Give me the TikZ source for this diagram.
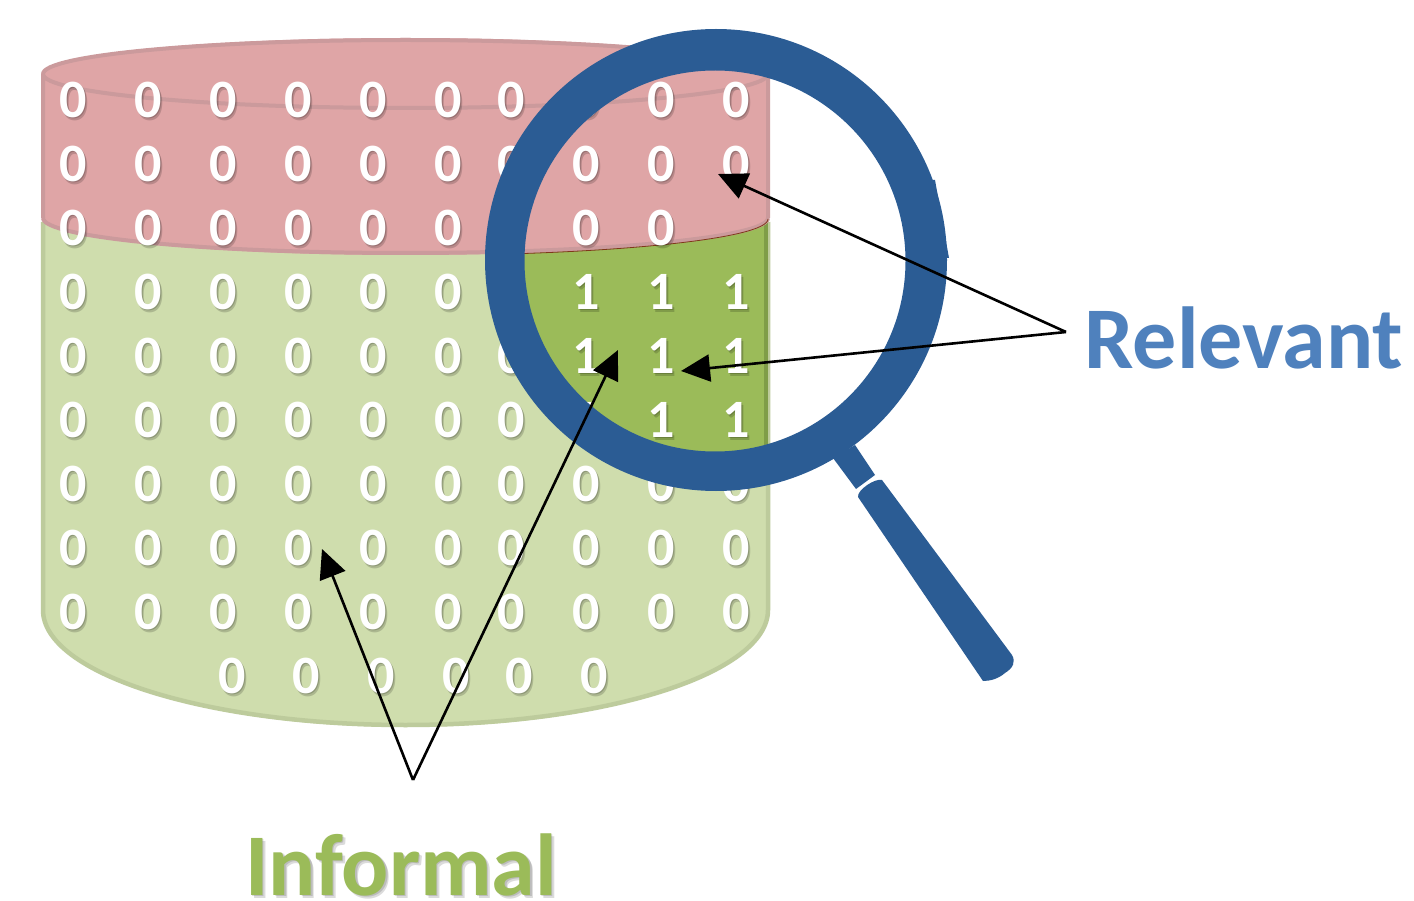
\documentclass[tikz,border=0pt]{standalone}
\usepackage{fontspec}
\setmainfont{Carlito}
\usetikzlibrary{arrows.meta}
\definecolor{redfill}{HTML}{DFA5A6}
\definecolor{rededge}{HTML}{CB9A9C}
\definecolor{greenfill}{HTML}{CFDDAD}
\definecolor{greenedge}{HTML}{BDCB9C}
\definecolor{lensgreen}{HTML}{9BBB59}
\definecolor{lensedge}{HTML}{7F9D48}
\definecolor{ringblue}{HTML}{2B5C94}
\definecolor{labelblue}{HTML}{4F81BD}
\tikzset{
  digit/.style={font=\fontsize{54}{54}\selectfont\bfseries,text=white,inner sep=0pt},
  digitshadow/.style={font=\fontsize{54}{54}\selectfont\bfseries,text=black,text opacity=.17,inner sep=0pt},
  callout/.style={draw=black,line width=2.6pt,-{Triangle[length=29pt,width=27pt]}},
  biglabel/.style={font=\fontsize{88}{88}\selectfont\bfseries,inner sep=0pt},
  bigshadow/.style={biglabel,text=black,text opacity=.14}
}
\newcommand{\dig}[4]{%
  \node[digitshadow] (s#4) at (#1+1.2,#2+1.2) {#3};
  \node[digitshadow] (t#4) at (#1+2.6,#2+2.6) {#3};
  \node[digit] (d#4) at (#1,#2) {#3};}
\begin{document}
\begin{tikzpicture}[x=1pt,y=1pt,yscale=-1,line join=round]
\useasboundingbox (0,0) rectangle (1414,901);
\fill[white] (0,0) rectangle (1414,901);
% green lower body
\fill[greenfill] (43,218) -- (43,610) arc[start angle=180,end angle=0,x radius=362.5pt,y radius=117pt] -- (768,218) -- cycle;
\draw[greenedge,line width=4.5pt] (43,222) -- (43,610) arc[start angle=180,end angle=0,x radius=362.5pt,y radius=115pt] -- (768,222);
% lens part of green
\begin{scope}
  \clip (715,261) circle[radius=192pt];
  \fill[lensgreen] (500,218) rectangle (768,480);
  \fill[lensedge] (763.5,218) rectangle (768,480);
\end{scope}
% red upper body
\fill[redfill] (43,74) arc[start angle=180,end angle=360,x radius=362.5pt,y radius=36pt] -- (768,218)
  arc[start angle=0,end angle=180,x radius=362.5pt,y radius=37pt] -- cycle;
\fill[redfill] (43,74) arc[start angle=180,end angle=0,x radius=362.5pt,y radius=36pt] -- cycle;
\draw[rededge,line width=4pt] (43,218) -- (43,74) arc[start angle=180,end angle=0,x radius=362.5pt,y radius=34pt] -- (768,218);
\draw[rededge,line width=4pt] (43,74) arc[start angle=180,end angle=0,x radius=362.5pt,y radius=-34pt];
\draw[rededge,line width=4pt] (43,218) arc[start angle=180,end angle=0,x radius=362.5pt,y radius=35pt];
\begin{scope}
  \clip (715,261) circle[radius=192pt];
  \draw[red!45!black!70!lensgreen,line width=.8pt] (43,219) arc[start angle=180,end angle=0,x radius=362.5pt,y radius=36.5pt];
\end{scope}
% digits
\foreach \r/\y in {1/100,2/164,3/228,4/292,5/356,6/420,7/484,8/548,9/612}{
  \foreach \c/\x in {1/73,2/148,3/223,4/298,5/373,6/448}{
    \dig{\x}{\y}{0}{-\r-\c}
  }
}
\foreach \r/\y in {1/100,2/164,5/356,6/420,7/484,8/548,9/612}{\dig{511}{\y}{0}{-\r-7}}
\foreach \r/\y in {1/100,2/164,3/228,7/484,8/548,9/612}{\dig{586}{\y}{0}{-\r-8}}
\foreach \r/\y in {1/100,2/164,3/228,7/484,8/548,9/612}{\dig{661}{\y}{0}{-\r-9}}
\foreach \r/\y in {1/100,2/164,7/484,8/548,9/612}{\dig{736}{\y}{0}{-\r-10}}
\foreach \r/\y in {4/292,5/356,6/420}{
  \dig{586}{\y}{1}{-\r-8}
  \dig{661}{\y}{1}{-\r-9}
  \dig{736}{\y}{1}{-\r-10}
}
\foreach \c/\x in {1/232,2/306,3/381,4/456,5/519,6/594}{\dig{\x}{676}{0}{-10-\c}}
% magnifier
\fill[ringblue,even odd rule] (716,260) circle[radius=231pt] (715,261) circle[radius=190.5pt];
\fill[ringblue] (930,180) -- (935,180) -- (949,258) -- (930,258) -- cycle;
\fill[ringblue] (833,458) -- (855,445) -- (875,475) -- (856,489) -- cycle;
\fill[ringblue] (858,497) .. controls (857,490) and (875,478) .. (882,480) -- (1012,655)
  .. controls (1016,662) and (1013,668) .. (1005,673) .. controls (998,679) and (990,681) .. (983,681) -- cycle;
% labels and connectors
\node[biglabel,text=labelblue] (relevant) at (1244,338) {Relevant};
\node[bigshadow] (informalshadowa) at (402.5,866) {Informal};
\node[bigshadow] (informalshadowb) at (404,867.5) {Informal};
\node[biglabel,text=lensgreen] (informal) at (401,864.5) {Informal};
\coordinate (relsrc) at (1066,332);
\coordinate (infsrc) at (413,780);
\coordinate (reltop) at (718,174);
\coordinate (relmid) at (681,371);
\coordinate (infleft) at (322,549);
\coordinate (infright) at (618,350);
\draw[callout] (relsrc) -- (reltop);
\draw[callout] (relsrc) -- (relmid);
\draw[callout] (infsrc) -- (infleft);
\draw[callout] (infsrc) -- (infright);
\end{tikzpicture}
\end{document}
